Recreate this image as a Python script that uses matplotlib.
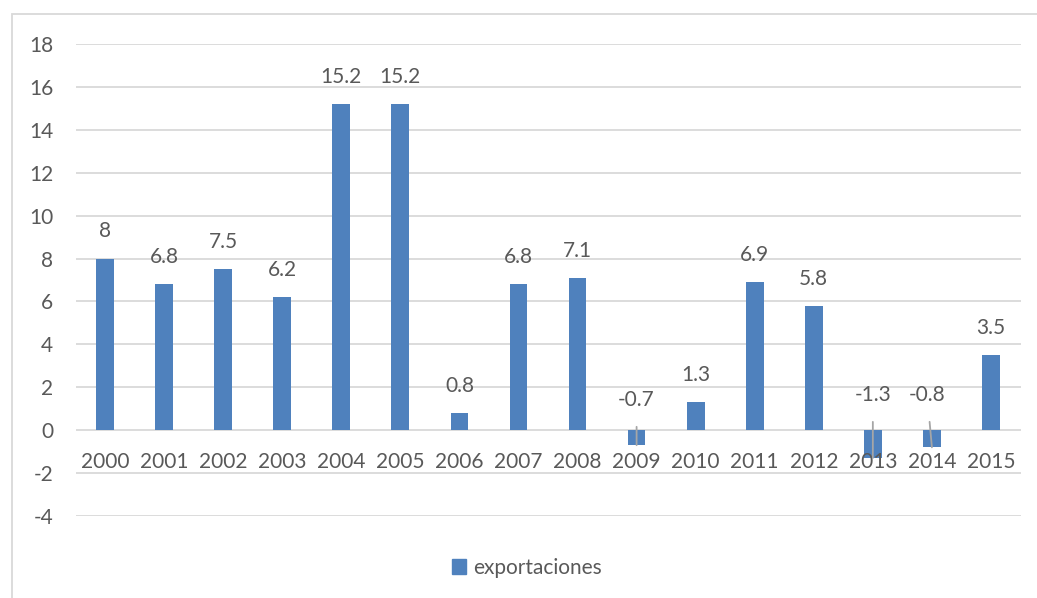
import matplotlib.pyplot as plt
from matplotlib.patches import Rectangle, Patch

years = ['2000', '2001', '2002', '2003', '2004', '2005', '2006', '2007',
         '2008', '2009', '2010', '2011', '2012', '2013', '2014', '2015']
exportaciones = [8, 6.8, 7.5, 6.2, 15.2, 15.2, 0.8, 6.8,
                 7.1, -0.7, 1.3, 6.9, 5.8, -1.3, -0.8, 3.5]
yticks = [-4, -2, 0, 2, 4, 6, 8, 10, 12, 14, 16, 18]

bar_color = '#4F81BD'
text_color = '#595959'
grid_color = '#D9D9D9'
fs = 15
plt.rcParams['font.family'] = ['Lato', 'DejaVu Sans']

fig = plt.figure(figsize=(10.37, 5.98), dpi=100)
ax = fig.add_axes([75.5 / 1037, (598 - 516) / 598, 945 / 1037, 472 / 598])

x = list(range(len(years)))
ax.bar(x, exportaciones, width=0.3, color=bar_color, zorder=3)

ax.set_xlim(-0.5, len(years) - 0.5)
ax.set_ylim(-4, 18)
ax.set_yticks(yticks)
ax.set_yticklabels([str(t) for t in yticks], fontsize=fs, color=text_color)
ax.tick_params(axis='y', length=0, pad=16)
ax.set_xticks([])
ax.grid(axis='y', color=grid_color, linewidth=1.3, zorder=0)
for s in ax.spines.values():
    s.set_visible(False)

# category labels sit just under the zero line
for i, yr in enumerate(years):
    ax.annotate(yr, (i, 0), xytext=(0, -23), textcoords='offset points',
                ha='center', va='center', fontsize=fs, color=text_color)

# value labels; negatives are lifted above the axis with a leader line
for i, v in enumerate(exportaciones):
    label = f'{v:g}'
    if v >= 0:
        ax.annotate(label, (i, v), xytext=(0, 19.5), textcoords='offset points',
                    ha='center', va='center', fontsize=fs, color=text_color)
    else:
        dx = -0.08 if v > -1 and i > 10 else 0
        ty = 1.4 if v > -0.75 else 1.63
        ax.annotate(label, (i, v), xytext=(i + dx, ty), textcoords='data',
                    ha='center', va='center', fontsize=fs, color=text_color,
                    arrowprops=dict(arrowstyle='-', color='#A6A6A6', lw=1.3,
                                    shrinkA=10, shrinkB=0))

fig.legend(handles=[Patch(color=bar_color, label='exportaciones')],
           loc='center', bbox_to_anchor=(527 / 1037, 1 - 568 / 598),
           frameon=False, fontsize=fs, handlelength=0.7, handleheight=0.7,
           handletextpad=0.35, labelcolor=text_color)

# chart area border
fig.patches.append(Rectangle((12 / 1037, -0.01), 1.0, 1 - 14 / 598 + 0.01,
                             transform=fig.transFigure, fill=False,
                             edgecolor=grid_color, linewidth=1.3))

fig.savefig('out.png', dpi=100)
